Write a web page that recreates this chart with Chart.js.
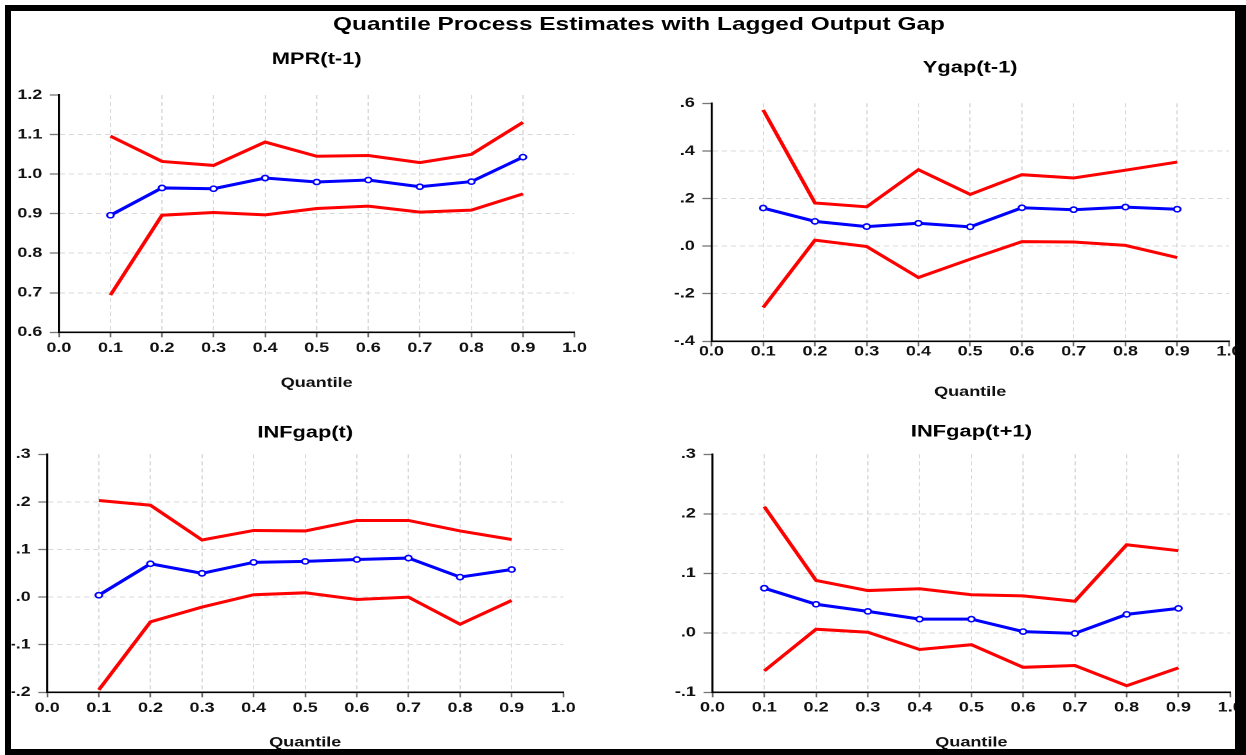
<!DOCTYPE html>
<html>
<head>
<meta charset="utf-8">
<title>Quantile Process Estimates with Lagged Output Gap</title>
<script src="https://cdn.jsdelivr.net/npm/chart.js@4.4.1/dist/chart.umd.min.js"></script>
<style>
  html, body { margin: 0; padding: 0; background: #fff; overflow: hidden; }
  body { width: 1246px; height: 755px; position: relative; }
  #stage { position: absolute; left: 0; top: 0; height: 755px; transform-origin: 0 0; }
  .panel { position: absolute; }
  #heading {
    position: absolute; top: 13.5px; white-space: nowrap;
    font: bold 19px/1 "Liberation Sans", Arial, Helvetica, sans-serif; color: #000;
    transform: translateX(-50%);
  }
  #frame {
    position: absolute; left: 5px; top: 5px; width: 1241px; height: 750px;
    box-sizing: border-box; border-style: solid; border-color: #000;
    border-width: 6px 11px 6px 6px; z-index: 5; pointer-events: none;
  }
</style>
</head>
<body>
<div id="stage"><div id="heading">Quantile Process Estimates with Lagged Output Gap</div></div>
<div id="frame"></div>
<script>
// Quantiles at which the process is estimated
const quantiles = [0.1, 0.2, 0.3, 0.4, 0.5, 0.6, 0.7, 0.8, 0.9];
const quantileTicks = ['0.0', '0.1', '0.2', '0.3', '0.4', '0.5', '0.6', '0.7', '0.8', '0.9', '1.0'];

// MPR(t-1): coefficient with upper / lower confidence bands
const mprUpper = [1.096, 1.032, 1.022, 1.081, 1.045, 1.047, 1.029, 1.050, 1.131];
const mprCoef  = [0.896, 0.965, 0.963, 0.990, 0.980, 0.985, 0.968, 0.981, 1.043];
const mprLower = [0.694, 0.896, 0.903, 0.897, 0.913, 0.919, 0.904, 0.909, 0.950];
const mprTicks = ['0.6', '0.7', '0.8', '0.9', '1.0', '1.1', '1.2'];

// Ygap(t-1)
const ygapUpper = [0.572, 0.181, 0.165, 0.321, 0.217, 0.300, 0.286, 0.319, 0.353];
const ygapCoef  = [0.160, 0.104, 0.082, 0.096, 0.081, 0.161, 0.153, 0.164, 0.155];
const ygapLower = [-0.258, 0.025, -0.002, -0.132, -0.055, 0.019, 0.017, 0.003, -0.048];
const ygapTicks = ['-.4', '-.2', '.0', '.2', '.4', '.6'];

// INFgap(t)
const infUpper = [0.203, 0.193, 0.120, 0.140, 0.139, 0.161, 0.161, 0.139, 0.121];
const infCoef  = [0.004, 0.070, 0.050, 0.073, 0.075, 0.079, 0.082, 0.042, 0.058];
const infLower = [-0.195, -0.052, -0.021, 0.005, 0.009, -0.005, 0.000, -0.057, -0.007];
const infTicks = ['-.2', '-.1', '.0', '.1', '.2', '.3'];

// INFgap(t+1)
const infLeadUpper = [0.212, 0.088, 0.071, 0.074, 0.064, 0.062, 0.053, 0.148, 0.138];
const infLeadCoef  = [0.075, 0.048, 0.036, 0.023, 0.023, 0.002, -0.001, 0.031, 0.041];
const infLeadLower = [-0.064, 0.006, 0.001, -0.028, -0.020, -0.058, -0.055, -0.089, -0.059];
const infLeadTicks = ['-.1', '.0', '.1', '.2', '.3'];

// The whole figure is drawn in a narrower space and widened horizontally.
const STRETCH = 1.285;
const FONT = '"Liberation Sans", Arial, Helvetica, sans-serif';

// Panel boxes in page pixels
const panels = [
  { title: 'MPR(t-1)', upper: mprUpper, coef: mprCoef, lower: mprLower, yTicks: mprTicks,
    box: { left: 11, top: 40, bottom: 400, plotLeft: 58.3, plotRight: 574, plotTop: 95, plotBottom: 332.3,
           titleMid: 59.5, xLabelMid: 348.3, axisTitleMid: 383 } },
  { title: 'Ygap(t-1)', upper: ygapUpper, coef: ygapCoef, lower: ygapLower, yTicks: ygapTicks,
    box: { left: 630, top: 40, bottom: 410, plotLeft: 711.7, plotRight: 1228.7, plotTop: 103.3, plotBottom: 341.3,
           titleMid: 68, xLabelMid: 351.7, axisTitleMid: 392 } },
  { title: 'INFgap(t)', upper: infUpper, coef: infCoef, lower: infLower, yTicks: infTicks,
    box: { left: 11, top: 405, bottom: 755, plotLeft: 46.7, plotRight: 563.3, plotTop: 454.3, plotBottom: 692.3,
           titleMid: 433, xLabelMid: 708, axisTitleMid: 742.5 } },
  { title: 'INFgap(t+1)', upper: infLeadUpper, coef: infLeadCoef, lower: infLeadLower, yTicks: infLeadTicks,
    box: { left: 630, top: 405, bottom: 755, plotLeft: 712.7, plotRight: 1229.3, plotTop: 454.3, plotBottom: 692.3,
           titleMid: 432, xLabelMid: 707.5, axisTitleMid: 742.5 } }
];

const stage = document.getElementById('stage');
stage.style.width = (1246 / STRETCH) + 'px';
stage.style.transform = 'scaleX(' + STRETCH + ')';
document.getElementById('heading').style.left = (639 / STRETCH) + 'px';

Chart.defaults.font.family = FONT;
Chart.defaults.font.weight = 'bold';
Chart.defaults.color = '#111';

const GRID = '#d9d9d9';
const points = vals => quantiles.map((q, i) => ({ x: q, y: vals[i] }));

function makePanel(p) {
  const g = p.box;
  const padRight = 24;
  const yAxisW = (g.plotLeft - g.left) / STRETCH;
  const width = (g.plotRight - g.left) / STRETCH + padRight;
  const height = g.bottom - g.top;

  const div = document.createElement('div');
  div.className = 'panel';
  div.style.left = (g.left / STRETCH) + 'px';
  div.style.top = g.top + 'px';
  div.style.width = width + 'px';
  div.style.height = height + 'px';
  const canvas = document.createElement('canvas');
  div.appendChild(canvas);
  stage.appendChild(div);

  const titleSize = 17, titleLH = titleSize * 1.2;
  const titlePadTop = g.titleMid - g.top - titleLH / 2;
  const titlePadBottom = g.plotTop - g.top - titlePadTop - titleLH;
  const tickSize = 14, tickLH = tickSize * 1.2;
  const xTickLen = 5;
  const xTickPad = g.xLabelMid - g.plotBottom - xTickLen - tickLH / 2;
  const xAxisH = g.bottom - g.plotBottom;
  const axisTitlePadBottom = g.bottom - g.axisTitleMid - tickLH / 2;
  const yTickLen = 7;
  const yTickPad = 5.9;

  const yVals = p.yTicks.map(t => parseFloat(t));
  const xVals = quantileTicks.map(t => parseFloat(t));

  new Chart(canvas, {
    type: 'line',
    data: {
      datasets: [
        { data: points(p.upper), borderColor: '#ff0000', borderWidth: 3, pointRadius: 0, tension: 0, fill: false },
        { data: points(p.lower), borderColor: '#ff0000', borderWidth: 3, pointRadius: 0, tension: 0, fill: false },
        { data: points(p.coef), borderColor: '#0000ff', borderWidth: 3, tension: 0, fill: false,
          pointRadius: 2.6, pointBorderWidth: 1.6, pointBackgroundColor: '#ffffff', pointBorderColor: '#0000ff' }
      ]
    },
    options: {
      responsive: true,
      maintainAspectRatio: false,
      animation: false,
      devicePixelRatio: 2,
      layout: { padding: { left: 0, top: 0, right: padRight, bottom: 0 } },
      plugins: {
        legend: { display: false },
        tooltip: { enabled: false },
        title: {
          display: true, text: p.title, fullSize: false, color: '#000',
          font: { size: titleSize, weight: 'bold', lineHeight: 1.2 },
          padding: { top: titlePadTop, bottom: titlePadBottom }
        }
      },
      scales: {
        x: {
          type: 'linear', position: 'bottom', min: xVals[0], max: xVals[xVals.length - 1],
          afterBuildTicks: s => { s.ticks = xVals.map(v => ({ value: v })); },
          afterFit: s => { s.height = xAxisH; s.paddingLeft = 0; s.paddingRight = 0; },
          ticks: { callback: (v, i) => quantileTicks[i], padding: xTickPad, maxRotation: 0, autoSkip: false,
                   color: '#111', font: { size: tickSize, weight: 'bold' } },
          grid: { color: c => (c.index === xVals.length - 1 ? 'rgba(0,0,0,0)' : GRID), lineWidth: 1,
                  tickLength: xTickLen, tickColor: '#666', tickWidth: 1.3 },
          border: { display: true, color: '#000', width: 1.6, dash: [4, 3] },
          title: { display: true, text: 'Quantile', color: '#111',
                   font: { size: tickSize, weight: 'bold', lineHeight: 1.2 },
                   padding: { top: 0, bottom: axisTitlePadBottom } }
        },
        y: {
          type: 'linear', min: yVals[0], max: yVals[yVals.length - 1],
          afterBuildTicks: s => { s.ticks = yVals.map(v => ({ value: v })); },
          afterFit: s => { s.width = yAxisW; s.paddingTop = 0; s.paddingBottom = 0; },
          ticks: { callback: (v, i) => p.yTicks[i], padding: yTickPad, autoSkip: false,
                   color: '#111', font: { size: tickSize, weight: 'bold' } },
          grid: { color: c => (c.index === yVals.length - 1 ? 'rgba(0,0,0,0)' : GRID), lineWidth: 1,
                  tickLength: yTickLen, tickColor: '#777', tickWidth: 1.3 },
          border: { display: true, color: '#000', width: 1.6, dash: [4, 3] }
        }
      }
    }
  });
}

panels.forEach(makePanel);
</script>
</body>
</html>
